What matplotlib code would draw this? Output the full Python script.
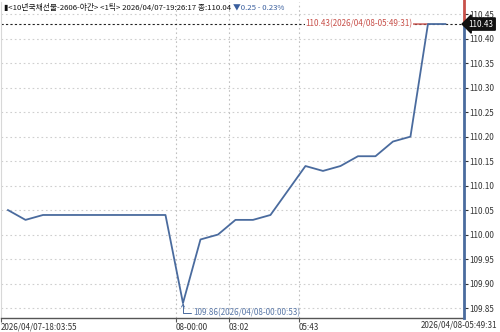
import matplotlib
matplotlib.use("Agg")
import matplotlib.pyplot as plt
import matplotlib.transforms as mtransforms

# values (tick index -> price)
prices = [110.05, 110.03, 110.04, 110.04, 110.04, 110.04, 110.04, 110.04,
          110.04, 110.04, 109.86, 109.99, 110.00, 110.03, 110.03, 110.04,
          110.09, 110.14, 110.13, 110.14, 110.16, 110.16, 110.19, 110.20,
          110.43, 110.43]
y_ticks = [109.85, 109.90, 109.95, 110.00, 110.05, 110.10, 110.15,
           110.20, 110.25, 110.30, 110.35, 110.40, 110.45]
time_tick_pos = [-0.4, 9.6, 12.63, 16.63]
time_tick_labels = ["2026/04/07-18:03:55", "08-00:00", "03:02", "05:43"]
end_label = "2026/04/08-05:49:31"
last_price = 110.43
min_idx, min_label = 10, "109.86(2026/04/08-00:00:53)"
max_idx, max_label = 24, "110.43(2026/04/08-05:49:31)"
title_main = "▮<10년국채선물-2606-야간> <1틱> 2026/04/07-19:26:17 종:110.04 "
title_chg = "▼0.25 - 0.23%"

plt.rcParams["font.family"] = ["Liberation Sans Narrow", "Noto Sans CJK KR", "DejaVu Sans"]

line_c = "#4a6b9e"
red_c = "#c8504a"
grid_c = "#cfcfcf"
fs = 5.8

fig = plt.figure(figsize=(5, 3.32), dpi=100)
ax = fig.add_axes([0.002, 1 - 318 / 332, 0.926, 316 / 332])

x = list(range(len(prices)))
ax.plot(x, prices, color=line_c, lw=1.3, zorder=4)

ax.set_xlim(-0.4, 26.06)
ax.set_ylim(109.8296, 110.475)

# grid
for v in y_ticks:
    ax.axhline(v, color=grid_c, lw=0.8, ls=(0, (1.5, 2.5)), zorder=1)
for p in time_tick_pos[1:]:
    ax.axvline(p, color="#c0c0c0", lw=0.8, ls=(0, (1.5, 2.5)), zorder=1)

# current price dashed line
ax.axhline(last_price, color="#222222", lw=0.8, ls=(0, (2, 2)), zorder=2)

# spines
ax.spines["top"].set_visible(False)
ax.spines["right"].set_visible(False)
ax.spines["left"].set_color("#d8d8d8")
ax.spines["bottom"].set_color("#555555")
ax.spines["bottom"].set_linewidth(1.0)

# right axis line: red above the last price, blue below
tr = mtransforms.blended_transform_factory(ax.transAxes, ax.transData)
ax.plot([1, 1], [ax.get_ylim()[0], last_price], transform=tr, color=line_c,
        lw=2, clip_on=False, zorder=5)
ax.plot([1, 1], [last_price, 110.49], transform=tr, color=red_c,
        lw=2, clip_on=False, zorder=5)

ax.yaxis.tick_right()
ax.set_yticks(y_ticks)
ax.set_yticklabels([f"{v:.2f}" for v in y_ticks])
ax.tick_params(axis="y", length=3, width=0.8, color="#333333", labelsize=fs,
               labelcolor="#333333", pad=1)

ax.set_xticks(time_tick_pos)
ax.set_xticklabels(time_tick_labels)
for lab in ax.get_xticklabels():
    lab.set_horizontalalignment("left")
ax.tick_params(axis="x", length=3, width=0.8, color="#555555", labelsize=fs,
               labelcolor="#333333", pad=0.5)
fig.text(0.994, 1 - 325 / 332, end_label, ha="right", va="center",
         fontsize=fs, color="#333333")

# last price box on the right axis
ax.text(1.01, last_price, f"{last_price:.2f}", transform=tr, ha="left",
        va="center", fontsize=fs, color="white", zorder=6,
        bbox=dict(boxstyle="larrow,pad=0.2", fc="#111111", ec="#111111"))

# min / max annotations
ax.annotate(min_label, xy=(min_idx, prices[min_idx]), xytext=(7.5, -7),
            textcoords="offset points", ha="left", va="center", fontsize=fs,
            color="#5a78a8",
            arrowprops=dict(arrowstyle="->", color=line_c, lw=0.7,
                            shrinkA=0, shrinkB=0, mutation_scale=5,
                            connectionstyle="angle,angleA=0,angleB=90,rad=0"))
ax.annotate(max_label, xy=(max_idx, prices[max_idx]), xytext=(-11, 0),
            textcoords="offset points", ha="right", va="center", fontsize=fs,
            color=red_c, zorder=3,
            bbox=dict(boxstyle="square,pad=0.05", fc="white", ec="none"),
            arrowprops=dict(arrowstyle="-", color=red_c, lw=1,
                            shrinkA=0, shrinkB=0))

# title, two colours
t1 = fig.text(4 / 500, 1 - 8 / 332, title_main, ha="left", va="center",
              fontsize=5.6, color="#111111")
fig.canvas.draw()
bb = t1.get_window_extent()
fig.text(bb.x1 / fig.bbox.width, 1 - 8 / 332, title_chg, ha="left",
         va="center", fontsize=5.6, color="#3a5f9e")

fig.savefig("out.png", dpi=100)
